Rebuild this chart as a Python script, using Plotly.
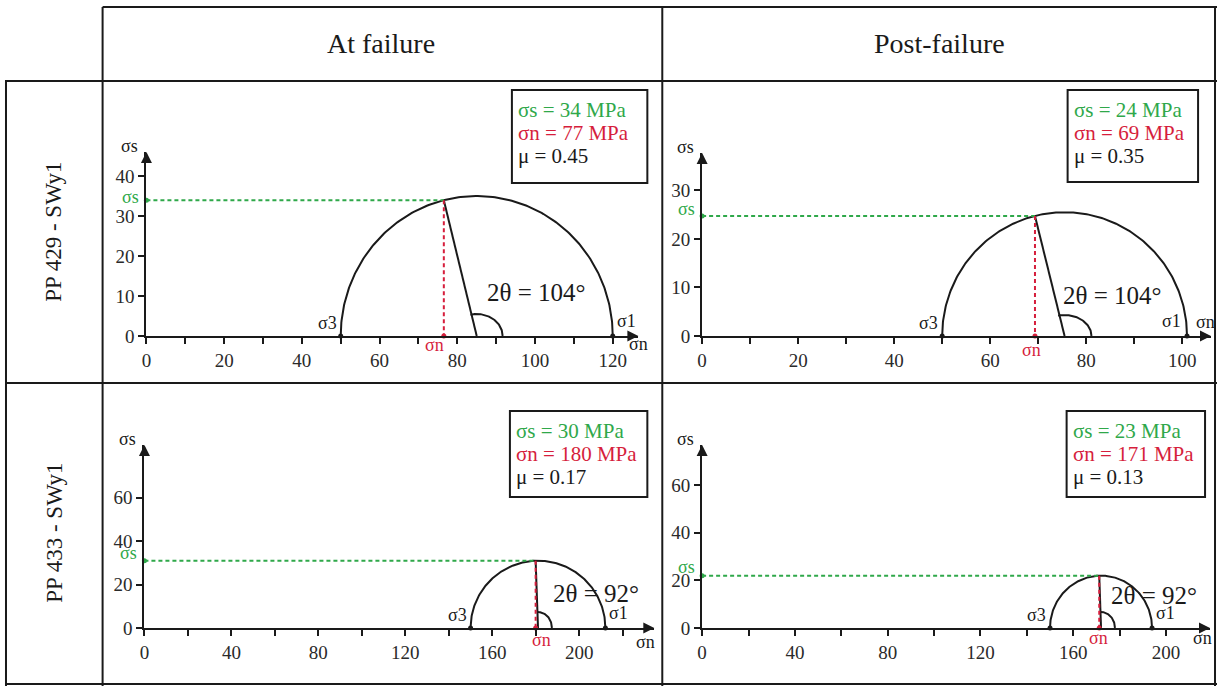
import numpy as np
import plotly.graph_objects as go

W, H = 1217, 686          # design grid (reference pixels)
FIG_H = 697               # figure height in the page
FONT = "Liberation Serif, Times New Roman, serif"
GREEN = "#2fa84a"
RED = "#d61e3c"
INK = "#1a1a1a"

# ---------------- data ----------------
col_titles = ["At failure", "Post-failure"]
row_titles = ["PP 429 - SWy1", "PP 433 - SWy1"]

# panels: top-left, top-right, bottom-left, bottom-right
sigma3 = [50, 50, 150, 150]          # MPa
sigma1 = [120, 101, 212, 194]        # MPa
two_theta = [104, 104, 92, 92]       # degrees
box_tau = [34, 24, 30, 23]           # shear stress (MPa)
box_sn = [77, 69, 180, 171]          # normal stress (MPa)
box_mu = [0.45, 0.35, 0.17, 0.13]    # friction coefficient

x_minor_step = [10, 10, 20, 20]
x_label_step = [20, 20, 40, 40]
x_tick_max = [120, 100, 220, 200]
y_ticks = [[0, 10, 20, 30, 40], [0, 10, 20, 30], [0, 20, 40, 60], [0, 20, 40, 60]]

# ---------------- layout geometry (design pixels) ----------------
geom = [
    dict(x0=142, x1=636, y0=336, y1=152, xr=126.6, yr=46.0),
    dict(x0=700, x1=1211, y0=336, y1=153, xr=106.0, yr=37.7),
    dict(x0=140, x1=652, y0=628, y1=445, xr=234.5, yr=84.3),
    dict(x0=700, x1=1210, y0=628, y1=445, xr=219.0, yr=76.9),
]
arc_px = [(26, 22), (27, 21), (14, 16), (14, 16)]
theta_lbl = [(0.31, 8), (0.33, -4), (0.52, 13), (0.63, 8)]
green_lbl_yshift = [3, 7, 8, 9]
red_lbl_shift = [(-9, -9), (-3, -14), (6, -12), (-1, -10)]
sn_axis_shift = [(0, -8), (-6, 14), (-9, -14), (-8, -10)]
s1_left = [True, False, True, True]
boxes = [(509, 90, 645, 183), (1067, 90, 1198, 182), (507, 411, 645, 497), (1066, 411, 1205, 497)]


def px(x):
    return x / W


def py(y):
    return 1 - y / H


fig = go.Figure()
annotations = []
shapes = []

for i in range(4):
    g = geom[i]
    n = "" if i == 0 else str(i + 1)
    xa, ya = "x" + n, "y" + n
    sx = (g["x1"] - g["x0"]) / g["xr"]
    sy = (g["y0"] - g["y1"]) / g["yr"]

    xt = list(range(0, x_tick_max[i] + 1, x_minor_step[i]))
    fig.update_layout(**{
        "xaxis" + n: dict(
            domain=[px(g["x0"]), px(g["x1"])], range=[0, g["xr"]], anchor=ya,
            showgrid=False, zeroline=False, showline=True, linecolor=INK, linewidth=2,
            ticks="outside", ticklen=6, tickwidth=2, tickcolor=INK,
            tickvals=xt, ticktext=[str(v) if v % x_label_step[i] == 0 else "" for v in xt],
            tickfont=dict(family=FONT, size=19, color="#2a2a2a"), fixedrange=True),
        "yaxis" + n: dict(
            domain=[py(g["y0"]), py(g["y1"])], range=[0, g["yr"]], anchor=xa,
            showgrid=False, zeroline=False, showline=True, linecolor=INK, linewidth=2,
            ticks="outside", ticklen=6, tickwidth=2, tickcolor=INK,
            tickvals=y_ticks[i], ticktext=[str(v) for v in y_ticks[i]],
            tickfont=dict(family=FONT, size=19, color="#2a2a2a"), fixedrange=True),
    })

    c = (sigma1[i] + sigma3[i]) / 2
    r = (sigma1[i] - sigma3[i]) / 2
    a = np.radians(two_theta[i])
    xp = c + r * np.cos(a)
    yp = r * np.sin(a)

    t = np.linspace(0, np.pi, 200)
    fig.add_trace(go.Scatter(x=c + r * np.cos(t), y=r * np.sin(t), mode="lines",
                             line=dict(color=INK, width=2), xaxis=xa, yaxis=ya,
                             hoverinfo="skip", showlegend=False))
    fig.add_trace(go.Scatter(x=[c, xp], y=[0, yp], mode="lines",
                             line=dict(color=INK, width=2), xaxis=xa, yaxis=ya,
                             hoverinfo="skip", showlegend=False))
    ta = np.linspace(0, a, 60)
    rx = arc_px[i][0] / sx
    ry = arc_px[i][1] / sy
    fig.add_trace(go.Scatter(x=c + rx * np.cos(ta), y=ry * np.sin(ta), mode="lines",
                             line=dict(color=INK, width=2), xaxis=xa, yaxis=ya,
                             hoverinfo="skip", showlegend=False))
    fig.add_trace(go.Scatter(x=[0, xp], y=[yp, yp], mode="lines",
                             line=dict(color=GREEN, width=2, dash="4px,3px"), xaxis=xa, yaxis=ya,
                             hoverinfo="skip", showlegend=False))
    fig.add_trace(go.Scatter(x=[xp, xp], y=[yp, 0], mode="lines",
                             line=dict(color=RED, width=2, dash="4px,3px"), xaxis=xa, yaxis=ya,
                             hoverinfo="skip", showlegend=False))
    fig.add_trace(go.Scatter(x=[sigma3[i], sigma1[i]], y=[0, 0], mode="markers",
                             marker=dict(color=INK, size=5), cliponaxis=False,
                             xaxis=xa, yaxis=ya, hoverinfo="skip", showlegend=False))
    fig.add_trace(go.Scatter(x=[0], y=[yp], mode="markers", marker=dict(color=GREEN, size=5),
                             cliponaxis=False, xaxis=xa, yaxis=ya, hoverinfo="skip", showlegend=False))
    fig.add_trace(go.Scatter(x=[xp], y=[0], mode="markers", marker=dict(color=RED, size=5),
                             cliponaxis=False, xaxis=xa, yaxis=ya, hoverinfo="skip", showlegend=False))

    annotations.append(dict(x=g["xr"], y=0, ax=g["xr"] - 8 / sx, ay=0, xref=xa, yref=ya,
                            axref=xa, ayref=ya, showarrow=True, arrowhead=2, arrowsize=1.1,
                            arrowwidth=2, arrowcolor=INK, text=""))
    annotations.append(dict(x=0, y=g["yr"], ax=0, ay=g["yr"] - 8 / sy, xref=xa, yref=ya,
                            axref=xa, ayref=ya, showarrow=True, arrowhead=2, arrowsize=1.1,
                            arrowwidth=2, arrowcolor=INK, text=""))

    small = dict(family=FONT, size=18, color=INK)
    annotations.append(dict(x=0, y=g["yr"], xref=xa, yref=ya, text="σs", showarrow=False,
                            xanchor="right", yanchor="middle", xshift=-6, yshift=6, font=small))
    annotations.append(dict(x=g["xr"], y=0, xref=xa, yref=ya, text="σn", showarrow=False,
                            xanchor="center", yanchor="middle", xshift=sn_axis_shift[i][0],
                            yshift=sn_axis_shift[i][1], font=small))
    annotations.append(dict(x=sigma3[i], y=0, xref=xa, yref=ya, text="σ3", showarrow=False,
                            xanchor="right", yanchor="bottom", xshift=-2, yshift=1, font=small))
    annotations.append(dict(x=sigma1[i], y=0, xref=xa, yref=ya, text="σ1", showarrow=False,
                            xanchor="left" if s1_left[i] else "right", yanchor="bottom",
                            xshift=2 if s1_left[i] else -4, yshift=3, font=small))
    annotations.append(dict(x=0, y=yp, xref=xa, yref=ya, text="σs", showarrow=False,
                            xanchor="right", yanchor="middle", xshift=-5,
                            yshift=green_lbl_yshift[i], font=dict(family=FONT, size=18, color=GREEN)))
    annotations.append(dict(x=xp, y=0, xref=xa, yref=ya, text="σn", showarrow=False,
                            xanchor="center", yanchor="middle", xshift=red_lbl_shift[i][0],
                            yshift=red_lbl_shift[i][1], font=dict(family=FONT, size=18, color=RED)))
    annotations.append(dict(x=c, y=theta_lbl[i][0] * r, xref=xa, yref=ya,
                            text="2θ = %d°" % two_theta[i], showarrow=False,
                            xanchor="left", yanchor="middle", xshift=theta_lbl[i][1],
                            font=dict(family=FONT, size=25, color=INK)))

    bx0, by0, bx1, by1 = boxes[i]
    shapes.append(dict(type="rect", xref="paper", yref="paper", x0=px(bx0), x1=px(bx1),
                       y0=py(by1), y1=py(by0), line=dict(color=INK, width=2)))
    lines = [("σs = %d MPa" % box_tau[i], GREEN), ("σn = %d MPa" % box_sn[i], RED),
             ("μ = %.2f" % box_mu[i], INK)]
    for k, (txt, col) in enumerate(lines):
        annotations.append(dict(x=px(bx0 + 4), y=py(by0 + 20 + 23 * k), xref="paper", yref="paper",
                                text=txt, showarrow=False, xanchor="left", yanchor="middle",
                                font=dict(family=FONT, size=21, color=col)))


def hline(y, x0, x1):
    shapes.append(dict(type="line", xref="paper", yref="paper", x0=px(x0), x1=px(x1),
                       y0=py(y), y1=py(y), line=dict(color=INK, width=2)))


def vline(x, y0, y1):
    shapes.append(dict(type="line", xref="paper", yref="paper", x0=px(x), x1=px(x),
                       y0=py(y0), y1=py(y1), line=dict(color=INK, width=2)))


hline(7, 98, 1217)
hline(81, 0, 1217)
hline(383, 0, 1217)
hline(684, 0, 1217)
vline(1, 81, 686)
vline(98, 7, 686)
vline(660, 7, 686)
vline(1215, 7, 686)

for j, t in enumerate(col_titles):
    cx = [378, 938][j]
    annotations.append(dict(x=px(cx), y=py(44), xref="paper", yref="paper", text=t,
                            xanchor="center", yanchor="middle",
                            showarrow=False, font=dict(family=FONT, size=28, color=INK)))
for j, t in enumerate(row_titles):
    cy = [232, 533][j]
    annotations.append(dict(x=px(49), y=py(cy), xref="paper", yref="paper", text=t,
                            xanchor="center", yanchor="middle",
                            showarrow=False, textangle=-90, font=dict(family=FONT, size=23, color=INK)))

fig.update_layout(width=W, height=FIG_H, margin=dict(l=0, r=0, t=0, b=0),
                  paper_bgcolor="white", plot_bgcolor="rgba(0,0,0,0)",
                  annotations=annotations, shapes=shapes, showlegend=False)

post = (
    "document.documentElement.style.margin='0px';"
    "document.body.style.margin='0px';"
)
fig.write_html("out.html", config={"displayModeBar": False}, post_script=post)
